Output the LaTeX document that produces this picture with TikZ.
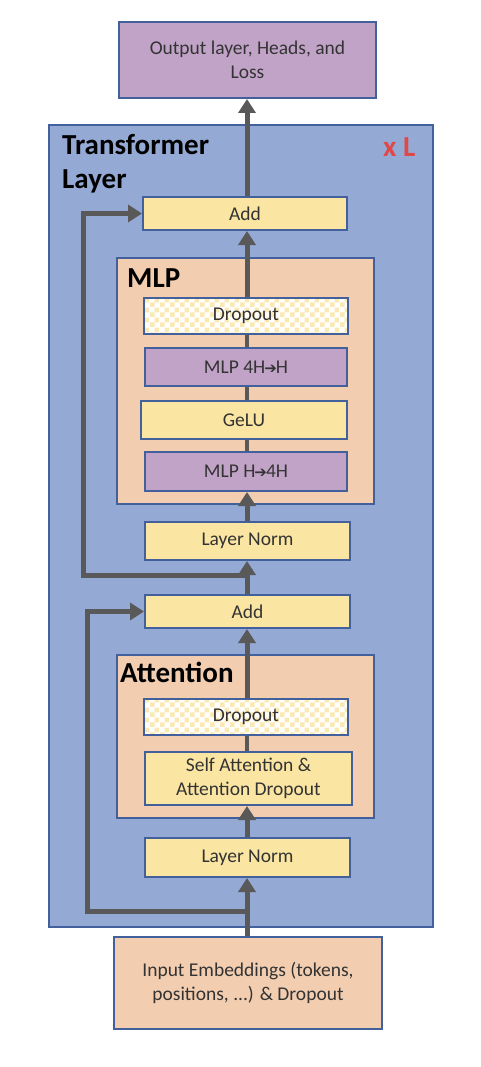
\documentclass[tikz,border=0pt]{standalone}
\usepackage{fontspec}
\setmainfont{Carlito}
\newfontfamily\arrowfont{DejaVu Sans}
\newcommand{\thickarrow}{{\arrowfont\fontsize{15}{15}\selectfont\kern-1pt ➔\kern-1pt}}
\usetikzlibrary{arrows.meta,patterns}
\definecolor{layerblue}{HTML}{95A9D5}
\definecolor{edgeblue}{HTML}{41609C}
\definecolor{lilac}{HTML}{C2A3C8}
\definecolor{paleyellow}{HTML}{FAE5A2}
\definecolor{peach}{HTML}{F2CDB0}
\definecolor{arrowgray}{HTML}{595959}
\definecolor{checkyellow}{HTML}{FBE9B4}
\definecolor{redL}{HTML}{E04848}
\pgfdeclarepatternformonly{checks}{\pgfpointorigin}{\pgfpoint{10pt}{10pt}}{\pgfpoint{10pt}{10pt}}{%
  \pgfpathrectangle{\pgfpointorigin}{\pgfpoint{5pt}{5pt}}%
  \pgfpathrectangle{\pgfpoint{5pt}{5pt}}{\pgfpoint{5pt}{5pt}}%
  \pgfusepath{fill}}
\tikzset{
  box/.style={draw=edgeblue, line width=2pt, rectangle, inner sep=0pt, align=center,
    font=\fontsize{19.5}{24}\selectfont, text=black!80},
  yellowbox/.style={box, fill=paleyellow},
  purplebox/.style={box, fill=lilac},
  peachbox/.style={box, fill=peach},
  dropbox/.style={box, preaction={fill=white}, pattern=checks, pattern color=checkyellow},
  heading/.style={font=\fontsize{29}{34}\selectfont\bfseries, text=black, inner sep=0pt},
  arr/.style={draw=arrowgray, line width=5pt, -{Triangle[width=17pt,length=14pt]}},
  plain/.style={draw=arrowgray, line width=4pt},
}
\begin{document}
\begin{tikzpicture}[x=1pt,y=-1pt]
\useasboundingbox (0,0) rectangle (480,1067);
\coordinate (spine) at (247,0);
% containers
\node[box, fill=layerblue, minimum width=384pt, minimum height=802pt] (layer) at (241,526) {};
\node[heading, anchor=base west] (tl1) at (62,155) {Transformer};
\node[heading, anchor=base west] (tl2) at (62,189) {Layer};
\node[heading, anchor=base west, text=redL] (xl) at (383,157) {x L};
\node[peachbox, minimum width=257pt, minimum height=246pt] (mlp) at (245.5,381) {};
\node[heading, anchor=base west] (mlpt) at (127,287) {MLP};
\node[peachbox, minimum width=257pt, minimum height=163pt] (attn) at (245.5,736.5) {};
\node[heading, anchor=base west] (attnt) at (120,682) {Attention};
% boxes
\node[purplebox, minimum width=257pt, minimum height=76pt] (out) at (247.5,60) {Output layer, Heads, and\\Loss};
\node[yellowbox, minimum width=204pt, minimum height=33pt] (add2) at (245,213.5) {Add};
\node[dropbox, minimum width=204pt, minimum height=36pt] (drop2) at (246,316) {Dropout};
\node[purplebox, minimum width=202pt, minimum height=38pt] (mlp4h) at (246,367) {MLP 4H\thickarrow H};
\node[yellowbox, minimum width=206pt, minimum height=38pt] (gelu) at (244,420) {GeLU};
\node[purplebox, minimum width=202pt, minimum height=39pt] (mlph) at (246,471.5) {MLP H\thickarrow 4H};
\node[yellowbox, minimum width=205pt, minimum height=38pt] (ln2) at (247.5,541) {Layer Norm};
\node[yellowbox, minimum width=205pt, minimum height=33pt] (add1) at (247.5,611.5) {Add};
\node[dropbox, minimum width=204pt, minimum height=36pt] (drop1) at (246,717) {Dropout};
\node[yellowbox, minimum width=207pt, minimum height=53pt] (sa) at (248.5,778.5) {Self Attention \&\\Attention Dropout};
\node[yellowbox, minimum width=205pt, minimum height=39pt] (ln1) at (247.5,857.5) {Layer Norm};
\node[peachbox, minimum width=268pt, minimum height=92pt] (inp) at (248,983) {Input Embeddings (tokens,\\positions, ...) \& Dropout};
% main flow
\draw[arr] (inp.north -| spine) -- (ln1.south -| spine);
\draw[arr] (ln1.north -| spine) -- (sa.south -| spine);
\draw[plain] (sa.north -| spine) -- (drop1.south -| spine);
\draw[arr] (drop1.north -| spine) -- (add1.south -| spine);
\draw[arr] (add1.north -| spine) -- (ln2.south -| spine);
\draw[arr] (ln2.north -| spine) -- (mlph.south -| spine);
\draw[plain] (mlph.north -| spine) -- (gelu.south -| spine);
\draw[plain] (gelu.north -| spine) -- (mlp4h.south -| spine);
\draw[plain] (mlp4h.north -| spine) -- (drop2.south -| spine);
\draw[arr] (drop2.north -| spine) -- (add2.south -| spine);
\draw[arr] (add2.north -| spine) -- (out.south -| spine);
% residual connections
\coordinate (j1) at (247,911);
\coordinate (k1) at (87,911);
\draw[arr] (j1) -- (k1) |- (add1.west);
\coordinate (j2) at (247,575);
\coordinate (k2) at (83,575);
\draw[arr] (j2) -- (k2) |- (add2.west);
\end{tikzpicture}
\end{document}
